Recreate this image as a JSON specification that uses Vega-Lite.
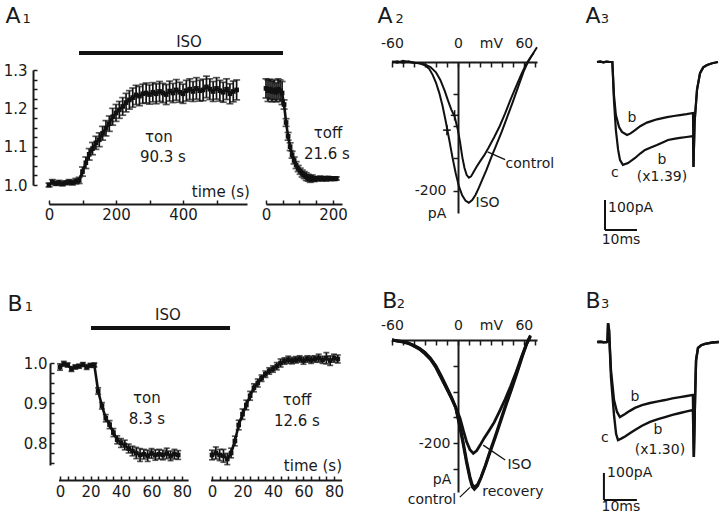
{
"$schema": "https://vega.github.io/schema/vega-lite/v6.json",
"padding": 0,
"background": "white",
"spacing": 0,
"bounds": "flush",
"columns": 4,
"config": {
  "view": {"stroke": null},
  "axis": {"labelFont": "DejaVu Sans", "labelColor": "#1a1a1a", "domainColor": "#1a1a1a", "tickColor": "#1a1a1a", "domainWidth": 2, "tickWidth": 1.5, "grid": false, "labelOverlap": false, "labelFlush": false},
  "text": {"font": "DejaVu Sans", "color": "#1a1a1a"}
},
"datasets": {
  "a1on": [
    {"x":0,"y":1.000,"e":0.005},{"x":10,"y":1.008,"e":0.006},{"x":20,"y":1.004,"e":0.005},{"x":30,"y":1.006,"e":0.006},{"x":40,"y":1.003,"e":0.005},{"x":50,"y":1.006,"e":0.005},{"x":60,"y":1.008,"e":0.006},{"x":70,"y":1.006,"e":0.006},{"x":80,"y":1.010,"e":0.007},{"x":90,"y":1.012,"e":0.008},
    {"x":100,"y":1.035,"e":0.012},{"x":110,"y":1.058,"e":0.015},{"x":120,"y":1.080,"e":0.015},{"x":130,"y":1.095,"e":0.016},{"x":140,"y":1.110,"e":0.017},{"x":150,"y":1.118,"e":0.018},{"x":160,"y":1.135,"e":0.018},{"x":170,"y":1.148,"e":0.020},{"x":180,"y":1.160,"e":0.020},{"x":190,"y":1.178,"e":0.022},
    {"x":200,"y":1.188,"e":0.022},{"x":210,"y":1.196,"e":0.022},{"x":220,"y":1.205,"e":0.023},{"x":230,"y":1.215,"e":0.024},{"x":240,"y":1.222,"e":0.024},{"x":250,"y":1.228,"e":0.025},{"x":260,"y":1.235,"e":0.025},{"x":270,"y":1.232,"e":0.025},{"x":280,"y":1.238,"e":0.025},{"x":290,"y":1.240,"e":0.026},
    {"x":300,"y":1.236,"e":0.025},{"x":310,"y":1.242,"e":0.025},{"x":320,"y":1.238,"e":0.026},{"x":330,"y":1.244,"e":0.026},{"x":340,"y":1.240,"e":0.025},{"x":350,"y":1.236,"e":0.026},{"x":360,"y":1.245,"e":0.026},{"x":370,"y":1.240,"e":0.025},{"x":380,"y":1.248,"e":0.027},{"x":390,"y":1.242,"e":0.026},
    {"x":400,"y":1.238,"e":0.025},{"x":410,"y":1.246,"e":0.027},{"x":420,"y":1.250,"e":0.027},{"x":430,"y":1.244,"e":0.026},{"x":440,"y":1.252,"e":0.028},{"x":450,"y":1.246,"e":0.027},{"x":460,"y":1.248,"e":0.028},{"x":470,"y":1.256,"e":0.028},{"x":480,"y":1.250,"e":0.027},{"x":490,"y":1.244,"e":0.026},
    {"x":500,"y":1.252,"e":0.028},{"x":510,"y":1.246,"e":0.027},{"x":520,"y":1.242,"e":0.026},{"x":530,"y":1.250,"e":0.027},{"x":540,"y":1.238,"e":0.026},{"x":550,"y":1.244,"e":0.027},{"x":560,"y":1.248,"e":0.026}
  ],
  "a1off": [
    {"x":0,"y":1.252,"e":0.025},{"x":6,"y":1.246,"e":0.028},{"x":12,"y":1.250,"e":0.026},{"x":18,"y":1.244,"e":0.027},{"x":24,"y":1.248,"e":0.026},{"x":30,"y":1.242,"e":0.025},{"x":36,"y":1.250,"e":0.027},{"x":42,"y":1.246,"e":0.028},{"x":48,"y":1.240,"e":0.030},
    {"x":54,"y":1.210,"e":0.012},{"x":60,"y":1.163,"e":0.010},{"x":66,"y":1.127,"e":0.010},{"x":72,"y":1.100,"e":0.010},{"x":78,"y":1.079,"e":0.009},{"x":84,"y":1.064,"e":0.009},{"x":90,"y":1.052,"e":0.009},{"x":96,"y":1.043,"e":0.008},{"x":102,"y":1.036,"e":0.008},{"x":108,"y":1.030,"e":0.009},
    {"x":114,"y":1.026,"e":0.009},{"x":120,"y":1.022,"e":0.010},{"x":126,"y":1.019,"e":0.009},{"x":132,"y":1.016,"e":0.009},{"x":138,"y":1.018,"e":0.008},{"x":144,"y":1.015,"e":0.006},{"x":150,"y":1.017,"e":0.005},{"x":156,"y":1.016,"e":0.005},{"x":162,"y":1.018,"e":0.005},
    {"x":168,"y":1.016,"e":0.005},{"x":174,"y":1.017,"e":0.005},{"x":180,"y":1.016,"e":0.005},{"x":186,"y":1.018,"e":0.004},{"x":192,"y":1.016,"e":0.004},{"x":198,"y":1.017,"e":0.004},{"x":204,"y":1.016,"e":0.004},{"x":210,"y":1.017,"e":0.004}
  ],
  "b1on": [
    {"x":0,"y":0.990,"e":0.008},{"x":2.5,"y":0.998,"e":0.006},{"x":5,"y":0.995,"e":0.005},{"x":7.5,"y":0.985,"e":0.006},{"x":10,"y":0.990,"e":0.005},{"x":12.5,"y":0.992,"e":0.005},{"x":15,"y":0.996,"e":0.005},{"x":17.5,"y":0.990,"e":0.006},{"x":20,"y":0.994,"e":0.005},{"x":22.5,"y":0.995,"e":0.005},
    {"x":25,"y":0.930,"e":0.008},{"x":27.5,"y":0.893,"e":0.008},{"x":30,"y":0.862,"e":0.009},{"x":32.5,"y":0.846,"e":0.010},{"x":35,"y":0.826,"e":0.010},{"x":37.5,"y":0.808,"e":0.010},{"x":40,"y":0.800,"e":0.011},{"x":42.5,"y":0.795,"e":0.012},{"x":45,"y":0.786,"e":0.011},{"x":47.5,"y":0.780,"e":0.012},
    {"x":50,"y":0.775,"e":0.014},{"x":52.5,"y":0.770,"e":0.016},{"x":55,"y":0.772,"e":0.012},{"x":57.5,"y":0.768,"e":0.014},{"x":60,"y":0.774,"e":0.012},{"x":62.5,"y":0.770,"e":0.013},{"x":65,"y":0.772,"e":0.012},{"x":67.5,"y":0.770,"e":0.012},{"x":70,"y":0.774,"e":0.013},{"x":72.5,"y":0.768,"e":0.012},{"x":75,"y":0.772,"e":0.012},{"x":77.5,"y":0.770,"e":0.011}
  ],
  "b1off": [
    {"x":0,"y":0.770,"e":0.012},{"x":2.5,"y":0.775,"e":0.015},{"x":5,"y":0.770,"e":0.014},{"x":7.5,"y":0.768,"e":0.016},{"x":10,"y":0.760,"e":0.014},{"x":12.5,"y":0.775,"e":0.012},{"x":15,"y":0.805,"e":0.012},{"x":17.5,"y":0.845,"e":0.012},{"x":20,"y":0.872,"e":0.013},{"x":22.5,"y":0.895,"e":0.012},
    {"x":25,"y":0.918,"e":0.011},{"x":27.5,"y":0.938,"e":0.010},{"x":30,"y":0.950,"e":0.010},{"x":32.5,"y":0.962,"e":0.008},{"x":35,"y":0.972,"e":0.008},{"x":37.5,"y":0.980,"e":0.008},{"x":40,"y":0.985,"e":0.008},{"x":42.5,"y":0.992,"e":0.009},{"x":45,"y":1.000,"e":0.010},{"x":47.5,"y":1.005,"e":0.008},
    {"x":50,"y":1.008,"e":0.009},{"x":52.5,"y":1.006,"e":0.008},{"x":55,"y":1.008,"e":0.008},{"x":57.5,"y":1.010,"e":0.008},{"x":60,"y":1.006,"e":0.009},{"x":62.5,"y":1.010,"e":0.008},{"x":65,"y":1.008,"e":0.009},{"x":67.5,"y":1.010,"e":0.008},{"x":70,"y":1.012,"e":0.010},{"x":72.5,"y":1.008,"e":0.009},{"x":75,"y":1.012,"e":0.014},{"x":77.5,"y":1.006,"e":0.012},{"x":80,"y":1.012,"e":0.010},{"x":82.5,"y":1.010,"e":0.010}
  ],
  "a2": [
    {"s":"ISO","x":-60,"y":1},{"s":"ISO","x":-55,"y":-1},{"s":"ISO","x":-50,"y":2},{"s":"ISO","x":-45,"y":0},{"s":"ISO","x":-40,"y":-1},{"s":"ISO","x":-35,"y":-2},{"s":"ISO","x":-30,"y":-5},{"s":"ISO","x":-26,"y":-11},{"s":"ISO","x":-23,"y":-20},{"s":"ISO","x":-20,"y":-32},{"s":"ISO","x":-17,"y":-48},{"s":"ISO","x":-14,"y":-68},{"s":"ISO","x":-11,"y":-93},{"s":"ISO","x":-8,"y":-120},{"s":"ISO","x":-5,"y":-148},{"s":"ISO","x":-2,"y":-173},{"s":"ISO","x":1,"y":-194},{"s":"ISO","x":4,"y":-208},{"s":"ISO","x":7,"y":-216},{"s":"ISO","x":10,"y":-219},{"s":"ISO","x":13,"y":-215},{"s":"ISO","x":16,"y":-207},{"s":"ISO","x":19,"y":-196},{"s":"ISO","x":22,"y":-184},{"s":"ISO","x":26,"y":-168},{"s":"ISO","x":30,"y":-150},{"s":"ISO","x":35,"y":-129},{"s":"ISO","x":40,"y":-108},{"s":"ISO","x":45,"y":-85},{"s":"ISO","x":50,"y":-62},{"s":"ISO","x":55,"y":-38},{"s":"ISO","x":60,"y":-14},{"s":"ISO","x":64,"y":1},{"s":"ISO","x":68,"y":12},{"s":"ISO","x":72,"y":23},
    {"s":"control","x":-60,"y":0},{"s":"control","x":-55,"y":1},{"s":"control","x":-50,"y":-1},{"s":"control","x":-45,"y":1},{"s":"control","x":-40,"y":-1},{"s":"control","x":-35,"y":-2},{"s":"control","x":-30,"y":-4},{"s":"control","x":-25,"y":-8},{"s":"control","x":-20,"y":-16},{"s":"control","x":-16,"y":-28},{"s":"control","x":-12,"y":-45},{"s":"control","x":-9,"y":-60},{"s":"control","x":-6,"y":-74},{"s":"control","x":-3,"y":-85},{"s":"control","x":0,"y":-106},{"s":"control","x":2,"y":-125},{"s":"control","x":4,"y":-148},{"s":"control","x":6,"y":-165},{"s":"control","x":8,"y":-176},{"s":"control","x":10,"y":-180},{"s":"control","x":12,"y":-178},{"s":"control","x":14,"y":-172},{"s":"control","x":17,"y":-163},{"s":"control","x":20,"y":-155},{"s":"control","x":24,"y":-145},{"s":"control","x":28,"y":-133},{"s":"control","x":33,"y":-117},{"s":"control","x":38,"y":-100},{"s":"control","x":43,"y":-80},{"s":"control","x":48,"y":-58},{"s":"control","x":53,"y":-38},{"s":"control","x":58,"y":-18},{"s":"control","x":62,"y":-4},{"s":"control","x":66,"y":7},{"s":"control","x":69,"y":14}
  ],
  "b2": [
    {"s":"ISO","x":-60,"y":0},{"s":"ISO","x":-55,"y":-2},{"s":"ISO","x":-50,"y":-3},{"s":"ISO","x":-45,"y":-6},{"s":"ISO","x":-40,"y":-10},{"s":"ISO","x":-35,"y":-16},{"s":"ISO","x":-30,"y":-24},{"s":"ISO","x":-25,"y":-35},{"s":"ISO","x":-20,"y":-50},{"s":"ISO","x":-15,"y":-70},{"s":"ISO","x":-10,"y":-92},{"s":"ISO","x":-6,"y":-110},{"s":"ISO","x":-2,"y":-130},{"s":"ISO","x":2,"y":-152},{"s":"ISO","x":5,"y":-176},{"s":"ISO","x":8,"y":-198},{"s":"ISO","x":11,"y":-213},{"s":"ISO","x":14,"y":-220},{"s":"ISO","x":17,"y":-215},{"s":"ISO","x":20,"y":-205},{"s":"ISO","x":24,"y":-190},{"s":"ISO","x":28,"y":-177},{"s":"ISO","x":33,"y":-160},{"s":"ISO","x":38,"y":-138},{"s":"ISO","x":43,"y":-115},{"s":"ISO","x":48,"y":-90},{"s":"ISO","x":53,"y":-62},{"s":"ISO","x":58,"y":-32},{"s":"ISO","x":62,"y":-10},{"s":"ISO","x":66,"y":6},
    {"s":"control","x":-60,"y":0},{"s":"control","x":-55,"y":-2},{"s":"control","x":-50,"y":-4},{"s":"control","x":-45,"y":-7},{"s":"control","x":-40,"y":-11},{"s":"control","x":-35,"y":-17},{"s":"control","x":-30,"y":-25},{"s":"control","x":-25,"y":-36},{"s":"control","x":-20,"y":-52},{"s":"control","x":-15,"y":-73},{"s":"control","x":-10,"y":-95},{"s":"control","x":-6,"y":-112},{"s":"control","x":-2,"y":-132},{"s":"control","x":2,"y":-172},{"s":"control","x":5,"y":-205},{"s":"control","x":8,"y":-240},{"s":"control","x":11,"y":-270},{"s":"control","x":13,"y":-285},{"s":"control","x":15,"y":-290},{"s":"control","x":18,"y":-283},{"s":"control","x":21,"y":-268},{"s":"control","x":25,"y":-245},{"s":"control","x":29,"y":-220},{"s":"control","x":34,"y":-190},{"s":"control","x":39,"y":-158},{"s":"control","x":44,"y":-126},{"s":"control","x":49,"y":-95},{"s":"control","x":54,"y":-63},{"s":"control","x":59,"y":-30},{"s":"control","x":63,"y":-6},{"s":"control","x":66,"y":8},
    {"s":"recovery","x":-60,"y":0},{"s":"recovery","x":-55,"y":-1},{"s":"recovery","x":-50,"y":-3},{"s":"recovery","x":-45,"y":-6},{"s":"recovery","x":-40,"y":-12},{"s":"recovery","x":-35,"y":-18},{"s":"recovery","x":-30,"y":-27},{"s":"recovery","x":-25,"y":-38},{"s":"recovery","x":-20,"y":-54},{"s":"recovery","x":-15,"y":-75},{"s":"recovery","x":-10,"y":-96},{"s":"recovery","x":-6,"y":-113},{"s":"recovery","x":-2,"y":-131},{"s":"recovery","x":2,"y":-168},{"s":"recovery","x":5,"y":-200},{"s":"recovery","x":8,"y":-235},{"s":"recovery","x":11,"y":-265},{"s":"recovery","x":13,"y":-280},{"s":"recovery","x":15,"y":-286},{"s":"recovery","x":18,"y":-280},{"s":"recovery","x":21,"y":-266},{"s":"recovery","x":25,"y":-243},{"s":"recovery","x":29,"y":-217},{"s":"recovery","x":34,"y":-186},{"s":"recovery","x":39,"y":-154},{"s":"recovery","x":44,"y":-122},{"s":"recovery","x":49,"y":-92},{"s":"recovery","x":54,"y":-60},{"s":"recovery","x":59,"y":-28},{"s":"recovery","x":63,"y":-4},{"s":"recovery","x":66,"y":9}
  ],
  "a3": [
    {"s":"b","x":-5,"y":0},{"s":"b","x":-4,"y":2},{"s":"b","x":-3,"y":-1},{"s":"b","x":-2,"y":1},{"s":"b","x":-1,"y":0},{"s":"b","x":-0.2,"y":0},{"s":"b","x":0.3,"y":-110},{"s":"b","x":0.9,"y":-177},{"s":"b","x":1.9,"y":-217},{"s":"b","x":2.8,"y":-233},{"s":"b","x":4.4,"y":-243},{"s":"b","x":5.5,"y":-238},{"s":"b","x":6.9,"y":-227},{"s":"b","x":8.5,"y":-214},{"s":"b","x":10.6,"y":-202},{"s":"b","x":12,"y":-197},{"s":"b","x":13.75,"y":-191},{"s":"b","x":15.5,"y":-187},{"s":"b","x":16.9,"y":-184},{"s":"b","x":19,"y":-180},{"s":"b","x":20.9,"y":-177},{"s":"b","x":23,"y":-174},{"s":"b","x":25,"y":-170},{"s":"b","x":25.15,"y":-350},{"s":"b","x":25.5,"y":-200},{"s":"b","x":26.25,"y":-93},{"s":"b","x":27.2,"y":-37},{"s":"b","x":28.2,"y":-18},{"s":"b","x":29.4,"y":-10},{"s":"b","x":31,"y":-4},{"s":"b","x":32.8,"y":0},
    {"s":"c","x":-5,"y":0},{"s":"c","x":-4,"y":1},{"s":"c","x":-3,"y":-1},{"s":"c","x":-2,"y":1},{"s":"c","x":-1,"y":0},{"s":"c","x":-0.2,"y":0},{"s":"c","x":0.3,"y":-127},{"s":"c","x":0.9,"y":-227},{"s":"c","x":1.6,"y":-293},{"s":"c","x":2.2,"y":-327},{"s":"c","x":3.1,"y":-343},{"s":"c","x":4.7,"y":-337},{"s":"c","x":6.9,"y":-320},{"s":"c","x":8.5,"y":-305},{"s":"c","x":10,"y":-293},{"s":"c","x":12,"y":-284},{"s":"c","x":13.75,"y":-277},{"s":"c","x":15.5,"y":-268},{"s":"c","x":17.2,"y":-260},{"s":"c","x":19,"y":-256},{"s":"c","x":20.9,"y":-253},{"s":"c","x":23,"y":-250},{"s":"c","x":25,"y":-247},{"s":"c","x":25.15,"y":-350},{"s":"c","x":25.5,"y":-200},{"s":"c","x":26.25,"y":-93},{"s":"c","x":27.2,"y":-37},{"s":"c","x":28.2,"y":-18},{"s":"c","x":29.4,"y":-10},{"s":"c","x":31,"y":-4},{"s":"c","x":32.8,"y":0}
  ],
  "b3": [
    {"s":"b","x":-4,"y":0},{"s":"b","x":-3,"y":1},{"s":"b","x":-2,"y":-1},{"s":"b","x":-1,"y":0},{"s":"b","x":-0.8,"y":2},{"s":"b","x":-0.6,"y":70},{"s":"b","x":-0.3,"y":44},{"s":"b","x":0.3,"y":-104},{"s":"b","x":1.25,"y":-215},{"s":"b","x":2.2,"y":-259},{"s":"b","x":3.1,"y":-278},{"s":"b","x":4.7,"y":-267},{"s":"b","x":6.2,"y":-255},{"s":"b","x":7.8,"y":-244},{"s":"b","x":10,"y":-234},{"s":"b","x":12.5,"y":-226},{"s":"b","x":15,"y":-220},{"s":"b","x":17.2,"y":-215},{"s":"b","x":19.5,"y":-209},{"s":"b","x":21.9,"y":-204},{"s":"b","x":24,"y":-200},{"s":"b","x":25.9,"y":-196},{"s":"b","x":26.2,"y":-426},{"s":"b","x":26.6,"y":-200},{"s":"b","x":26.9,"y":-67},{"s":"b","x":27.5,"y":-22},{"s":"b","x":28.5,"y":-12},{"s":"b","x":29.7,"y":-7},{"s":"b","x":32,"y":-2},{"s":"b","x":34,"y":0},
    {"s":"c","x":-4,"y":0},{"s":"c","x":-3,"y":1},{"s":"c","x":-2,"y":-1},{"s":"c","x":-1,"y":0},{"s":"c","x":-0.8,"y":2},{"s":"c","x":-0.6,"y":70},{"s":"c","x":-0.3,"y":44},{"s":"c","x":0.3,"y":-130},{"s":"c","x":1.25,"y":-270},{"s":"c","x":1.9,"y":-340},{"s":"c","x":2.5,"y":-363},{"s":"c","x":3.5,"y":-358},{"s":"c","x":4.7,"y":-350},{"s":"c","x":6.2,"y":-338},{"s":"c","x":7.8,"y":-326},{"s":"c","x":10,"y":-310},{"s":"c","x":12.5,"y":-296},{"s":"c","x":15,"y":-286},{"s":"c","x":17.2,"y":-278},{"s":"c","x":19.5,"y":-270},{"s":"c","x":21.9,"y":-263},{"s":"c","x":24,"y":-257},{"s":"c","x":25.9,"y":-252},{"s":"c","x":26.2,"y":-426},{"s":"c","x":26.6,"y":-200},{"s":"c","x":26.9,"y":-67},{"s":"c","x":27.5,"y":-22},{"s":"c","x":28.5,"y":-12},{"s":"c","x":29.7,"y":-7},{"s":"c","x":32,"y":-2},{"s":"c","x":34,"y":0}
  ]
},
"concat": [
  {"width": 200, "height": 260,
   "encoding": {
     "x": {"field": "x", "type": "quantitative", "title": null, "scale": {"domain": [0, 591], "range": [49, 247], "nice": false, "zero": false},
           "axis": {"orient": "bottom", "offset": -56, "values": [0,100,200,300,400,500], "labelExpr": "datum.value % 200 == 0 ? datum.label : ''", "tickSize": -4, "labelPadding": 7, "labelFontSize": 15}},
     "y": {"field": "y", "type": "quantitative", "title": null, "scale": {"domain": [1, 1.3], "range": [185, 70], "nice": false, "zero": false},
           "axis": {"orient": "left", "offset": -33, "values": [1,1.025,1.05,1.075,1.1,1.125,1.15,1.175,1.2,1.225,1.25,1.275,1.3], "labelExpr": "abs(datum.value*10 - round(datum.value*10)) < 0.01 ? format(datum.value, '.1f') : ''", "tickSize": -4, "labelPadding": 10, "labelFontSize": 15}}
   },
   "layer": [
     {"data": {"name": "a1on"}, "mark": {"type": "errorbar", "ticks": {"size": 7, "color": "#111111"}, "color": "#111111", "thickness": 1.7}, "encoding": {"yError": {"field": "e"}}},
     {"data": {"name": "a1on"}, "mark": {"type": "line", "color": "#111111", "strokeWidth": 2.6}},
     {"data": {"name": "a1on"}, "mark": {"type": "point", "shape": "square", "filled": true, "size": 22, "color": "#111111", "opacity": 1}},
     {"data": {"values": [{"x": 89.6, "x2": 698.5, "y": 1.3444}]}, "mark": {"type": "rule", "strokeWidth": 4, "color": "#111111"}, "encoding": {"x2": {"field": "x2"}}},
     {"data": {"values": [{"x": 418, "y": 1.373, "label": "ISO"}, {"x": 328, "y": 1.125, "label": "τon"}, {"x": 340, "y": 1.073, "label": "90.3 s"}, {"x": 513, "y": 0.982, "label": "time (s)"}]},
      "mark": {"type": "text", "fontSize": 15, "align": "center", "baseline": "middle"}, "encoding": {"text": {"field": "label"}}},
     {"data": {"values": [{"x": -107, "y": 1.4226, "label": "A"}]}, "mark": {"type": "text", "fontSize": 22, "align": "center", "baseline": "alphabetic"}, "encoding": {"text": {"field": "label"}}},
     {"data": {"values": [{"x": -67, "y": 1.4226, "label": "1"}]}, "mark": {"type": "text", "fontSize": 13, "align": "center", "baseline": "alphabetic"}, "encoding": {"text": {"field": "label"}}}
   ]
  },
  {"width": 160, "height": 260,
   "encoding": {
     "x": {"field": "x", "type": "quantitative", "title": null, "scale": {"domain": [0, 227], "range": [66, 142], "nice": false, "zero": false},
           "axis": {"orient": "bottom", "offset": -56, "values": [0,50,100,150,200], "labelExpr": "datum.value % 200 == 0 ? datum.label : ''", "tickSize": -4, "labelPadding": 7, "labelFontSize": 15}},
     "y": {"field": "y", "type": "quantitative", "title": null, "scale": {"domain": [1, 1.3], "range": [185, 70], "nice": false, "zero": false}, "axis": null}
   },
   "layer": [
     {"data": {"name": "a1off"}, "mark": {"type": "errorbar", "ticks": {"size": 7, "color": "#111111"}, "color": "#111111", "thickness": 1.7}, "encoding": {"yError": {"field": "e"}}},
     {"data": {"name": "a1off"}, "mark": {"type": "line", "color": "#111111", "strokeWidth": 2.6}},
     {"data": {"name": "a1off"}, "mark": {"type": "point", "shape": "square", "filled": true, "size": 22, "color": "#111111", "opacity": 1}},
     {"data": {"values": [{"x": 185, "y": 1.136, "label": "τoff"}, {"x": 182, "y": 1.081, "label": "21.6 s"}]},
      "mark": {"type": "text", "fontSize": 15, "align": "center", "baseline": "middle"}, "encoding": {"text": {"field": "label"}}}
   ]
  },
  {"width": 200, "height": 260,
   "encoding": {
     "x": {"field": "x", "type": "quantitative", "title": null, "scale": {"domain": [-60, 72], "range": [32, 177], "nice": false, "zero": false},
           "axis": {"orient": "top", "offset": -62, "values": [-60,-50,-40,-30,-20,-10,0,10,20,30,40,50,60,70], "labelExpr": "datum.value == 30 ? 'mV' : (datum.value % 60 == 0 ? '' + datum.value : '')", "tickSize": -5, "labelPadding": 17, "labelFontSize": 14}},
     "y": {"field": "y", "type": "quantitative", "title": null, "scale": {"domain": [-235, 0], "range": [213, 62], "nice": false, "zero": false},
           "axis": {"orient": "left", "offset": -98, "values": [-50,-100,-150,-200], "labelExpr": "datum.value == -200 ? '' + datum.value : ''", "tickSize": 5, "labelPadding": 7, "labelFontSize": 14}}
   },
   "layer": [
     {"data": {"name": "a2"}, "mark": {"type": "line", "color": "#111111", "strokeWidth": 2}, "encoding": {"detail": {"field": "s"}}},
     {"data": {"values": [{"x": -3, "y": -91, "y2": -75}, {"x": -10, "y": -114, "y2": -98}]}, "mark": {"type": "rule", "color": "#111111", "strokeWidth": 1.5}, "encoding": {"y2": {"field": "y2"}}},
     {"data": {"values": [{"x": -6.5, "x2": 0.5, "y": -83}, {"x": -13.5, "x2": -6.5, "y": -106}]}, "mark": {"type": "rule", "color": "#111111", "strokeWidth": 1.5}, "encoding": {"x2": {"field": "x2"}}},
     {"data": {"values": [{"x": 27, "y": -140, "x2": 43, "y2": -152}]}, "mark": {"type": "rule", "color": "#111111", "strokeWidth": 1.3}, "encoding": {"x2": {"field": "x2"}, "y2": {"field": "y2"}}},
     {"data": {"values": [{"x": 27, "y": -220, "label": "ISO"}, {"x": 65.5, "y": -158, "label": "control"}, {"x": -19, "y": -236, "label": "pA"}]},
      "mark": {"type": "text", "fontSize": 14, "align": "center", "baseline": "middle"}, "encoding": {"text": {"field": "label"}}},
     {"data": {"values": [{"x": -66.4, "y": 61, "label": "A"}]}, "mark": {"type": "text", "fontSize": 22, "align": "center", "baseline": "alphabetic"}, "encoding": {"text": {"field": "label"}}},
     {"data": {"values": [{"x": -53, "y": 61, "label": "2"}]}, "mark": {"type": "text", "fontSize": 13, "align": "center", "baseline": "alphabetic"}, "encoding": {"text": {"field": "label"}}}
   ]
  },
  {"width": 160, "height": 260,
   "encoding": {
     "x": {"field": "x", "type": "quantitative", "title": null, "scale": {"domain": [-5, 33], "range": [37, 158.6], "nice": false, "zero": false}, "axis": null},
     "y": {"field": "y", "type": "quantitative", "title": null, "scale": {"domain": [-560, 0], "range": [230, 62], "nice": false, "zero": false}, "axis": null}
   },
   "layer": [
     {"data": {"name": "a3"}, "mark": {"type": "line", "color": "#111111", "strokeWidth": 2.2}, "encoding": {"detail": {"field": "s"}}},
     {"data": {"values": [{"x": -2.5, "y": -460, "x2": -2.5, "y2": -560}, {"x": -2.5, "y": -560, "x2": 7.5, "y2": -560}]}, "mark": {"type": "rule", "color": "#111111", "strokeWidth": 2}, "encoding": {"x2": {"field": "x2"}, "y2": {"field": "y2"}}},
     {"data": {"values": [{"x": 5.9, "y": -187, "label": "b"}, {"x": 0.6, "y": -370, "label": "c"}, {"x": 15.3, "y": -327, "label": "b"}, {"x": 15.3, "y": -383, "label": "(x1.39)"}, {"x": 2.5, "y": -593, "label": "10ms"}]},
      "mark": {"type": "text", "fontSize": 14, "align": "center", "baseline": "middle"}, "encoding": {"text": {"field": "label"}}},
     {"data": {"values": [{"x": -1.56, "y": -487, "label": "100pA"}]}, "mark": {"type": "text", "fontSize": 14, "align": "left", "baseline": "middle"}, "encoding": {"text": {"field": "label"}}},
     {"data": {"values": [{"x": -6.25, "y": 130, "label": "A"}]}, "mark": {"type": "text", "fontSize": 22, "align": "center", "baseline": "alphabetic"}, "encoding": {"text": {"field": "label"}}},
     {"data": {"values": [{"x": -2.5, "y": 130, "label": "3"}]}, "mark": {"type": "text", "fontSize": 13, "align": "center", "baseline": "alphabetic"}, "encoding": {"text": {"field": "label"}}}
   ]
  },
  {"width": 200, "height": 259,
   "encoding": {
     "x": {"field": "x", "type": "quantitative", "title": null, "scale": {"domain": [-1, 84], "range": [58.5, 188.1], "nice": false, "zero": false},
           "axis": {"orient": "bottom", "offset": -39, "values": [0,5,10,15,20,25,30,35,40,45,50,55,60,65,70,75,80], "labelExpr": "datum.value % 20 == 0 ? datum.label : ''", "tickSize": -4, "labelPadding": 8, "labelFontSize": 15}},
     "y": {"field": "y", "type": "quantitative", "title": null, "scale": {"domain": [0.745, 1], "range": [205, 103], "nice": false, "zero": false},
           "axis": {"orient": "left", "offset": -50, "values": [0.75,0.775,0.8,0.825,0.85,0.875,0.9,0.925,0.95,0.975,1], "labelExpr": "abs(datum.value*10 - round(datum.value*10)) < 0.01 ? format(datum.value, '.1f') : ''", "tickSize": -4, "labelPadding": 7, "labelFontSize": 15}}
   },
   "layer": [
     {"data": {"name": "b1on"}, "mark": {"type": "errorbar", "ticks": {"size": 6, "color": "#111111"}, "color": "#111111", "thickness": 1.7}, "encoding": {"yError": {"field": "e"}}},
     {"data": {"name": "b1on"}, "mark": {"type": "line", "color": "#111111", "strokeWidth": 2.6}},
     {"data": {"name": "b1on"}, "mark": {"type": "point", "shape": "square", "filled": true, "size": 22, "color": "#111111", "opacity": 1}},
     {"data": {"values": [{"x": 20.3, "x2": 111.5, "y": 1.0875}]}, "mark": {"type": "rule", "strokeWidth": 4, "color": "#111111"}, "encoding": {"x2": {"field": "x2"}}},
     {"data": {"values": [{"x": 70.8, "y": 1.12, "label": "ISO"}, {"x": 57, "y": 0.9125, "label": "τon"}, {"x": 57, "y": 0.86, "label": "8.3 s"}]},
      "mark": {"type": "text", "fontSize": 15, "align": "center", "baseline": "middle"}, "encoding": {"text": {"field": "label"}}},
     {"data": {"values": [{"x": -29.5, "y": 1.13, "label": "B"}]}, "mark": {"type": "text", "fontSize": 22, "align": "center", "baseline": "alphabetic"}, "encoding": {"text": {"field": "label"}}},
     {"data": {"values": [{"x": -20.5, "y": 1.13, "label": "1"}]}, "mark": {"type": "text", "fontSize": 13, "align": "center", "baseline": "alphabetic"}, "encoding": {"text": {"field": "label"}}}
   ]
  },
  {"width": 160, "height": 259,
   "encoding": {
     "x": {"field": "x", "type": "quantitative", "title": null, "scale": {"domain": [-1, 85], "range": [10.5, 141.6], "nice": false, "zero": false},
           "axis": {"orient": "bottom", "offset": -39, "values": [0,5,10,15,20,25,30,35,40,45,50,55,60,65,70,75,80], "labelExpr": "datum.value % 20 == 0 ? datum.label : ''", "tickSize": -4, "labelPadding": 8, "labelFontSize": 15}},
     "y": {"field": "y", "type": "quantitative", "title": null, "scale": {"domain": [0.745, 1], "range": [205, 103], "nice": false, "zero": false}, "axis": null}
   },
   "layer": [
     {"data": {"name": "b1off"}, "mark": {"type": "errorbar", "ticks": {"size": 6, "color": "#111111"}, "color": "#111111", "thickness": 1.7}, "encoding": {"yError": {"field": "e"}}},
     {"data": {"name": "b1off"}, "mark": {"type": "line", "color": "#111111", "strokeWidth": 2.6}},
     {"data": {"name": "b1off"}, "mark": {"type": "point", "shape": "square", "filled": true, "size": 22, "color": "#111111", "opacity": 1}},
     {"data": {"values": [{"x": 55.7, "y": 0.9075, "label": "τoff"}, {"x": 55.7, "y": 0.855, "label": "12.6 s"}, {"x": 66.2, "y": 0.7425, "label": "time (s)"}]},
      "mark": {"type": "text", "fontSize": 15, "align": "center", "baseline": "middle"}, "encoding": {"text": {"field": "label"}}}
   ]
  },
  {"width": 200, "height": 259,
   "encoding": {
     "x": {"field": "x", "type": "quantitative", "title": null, "scale": {"domain": [-60, 72], "range": [32, 177], "nice": false, "zero": false},
           "axis": {"orient": "top", "offset": -80, "values": [-60,-50,-40,-30,-20,-10,0,10,20,30,40,50,60,70], "labelExpr": "datum.value == 30 ? 'mV' : (datum.value % 60 == 0 ? '' + datum.value : '')", "tickSize": -5, "labelPadding": 13, "labelFontSize": 14}},
     "y": {"field": "y", "type": "quantitative", "title": null, "scale": {"domain": [-295, 0], "range": [232, 80], "nice": false, "zero": false},
           "axis": {"orient": "left", "offset": -98, "values": [-50,-100,-150,-200,-250], "labelExpr": "datum.value == -200 ? '' + datum.value : ''", "tickSize": 5, "labelPadding": 3, "labelFontSize": 14}}
   },
   "layer": [
     {"data": {"name": "b2"}, "mark": {"type": "line", "color": "#111111", "strokeWidth": 2.8}, "encoding": {"detail": {"field": "s"}}},
     {"data": {"values": [{"x": 43, "y": -233, "x2": 23, "y2": -204}, {"x": 1.8, "y": -305, "x2": 11, "y2": -286}]}, "mark": {"type": "rule", "color": "#111111", "strokeWidth": 1.3}, "encoding": {"x2": {"field": "x2"}, "y2": {"field": "y2"}}},
     {"data": {"values": [{"x": 56, "y": -243, "label": "ISO"}, {"x": 50, "y": -295, "label": "recovery"}, {"x": -23.6, "y": -311, "label": "control"}, {"x": -14.5, "y": -272, "label": "pA"}]},
      "mark": {"type": "text", "fontSize": 14, "align": "center", "baseline": "middle"}, "encoding": {"text": {"field": "label"}}},
     {"data": {"values": [{"x": -62, "y": 62, "label": "B"}]}, "mark": {"type": "text", "fontSize": 22, "align": "center", "baseline": "alphabetic"}, "encoding": {"text": {"field": "label"}}},
     {"data": {"values": [{"x": -52, "y": 62, "label": "2"}]}, "mark": {"type": "text", "fontSize": 13, "align": "center", "baseline": "alphabetic"}, "encoding": {"text": {"field": "label"}}}
   ]
  },
  {"width": 160, "height": 259,
   "encoding": {
     "x": {"field": "x", "type": "quantitative", "title": null, "scale": {"domain": [-5, 36], "range": [34, 165.2], "nice": false, "zero": false}, "axis": null},
     "y": {"field": "y", "type": "quantitative", "title": null, "scale": {"domain": [-600, 0], "range": [244, 82], "nice": false, "zero": false}, "axis": null}
   },
   "layer": [
     {"data": {"name": "b3"}, "mark": {"type": "line", "color": "#111111", "strokeWidth": 2.4}, "encoding": {"detail": {"field": "s"}}},
     {"data": {"values": [{"x": -1.9, "y": -485, "x2": -1.9, "y2": -585}, {"x": -1.9, "y": -585, "x2": 8.4, "y2": -585}]}, "mark": {"type": "rule", "color": "#111111", "strokeWidth": 2}, "encoding": {"x2": {"field": "x2"}, "y2": {"field": "y2"}}},
     {"data": {"values": [{"x": 7.8, "y": -204, "label": "b"}, {"x": -1.6, "y": -356, "label": "c"}, {"x": 15, "y": -326, "label": "b"}, {"x": 15.6, "y": -400, "label": "(x1.30)"}, {"x": 3.4, "y": -611, "label": "10ms"}]},
      "mark": {"type": "text", "fontSize": 14, "align": "center", "baseline": "middle"}, "encoding": {"text": {"field": "label"}}},
     {"data": {"values": [{"x": -0.9, "y": -485, "label": "100pA"}]}, "mark": {"type": "text", "fontSize": 14, "align": "left", "baseline": "middle"}, "encoding": {"text": {"field": "label"}}},
     {"data": {"values": [{"x": -5.3, "y": 126, "label": "B"}]}, "mark": {"type": "text", "fontSize": 22, "align": "center", "baseline": "alphabetic"}, "encoding": {"text": {"field": "label"}}},
     {"data": {"values": [{"x": -1.5, "y": 126, "label": "3"}]}, "mark": {"type": "text", "fontSize": 13, "align": "center", "baseline": "alphabetic"}, "encoding": {"text": {"field": "label"}}}
   ]
  }
]
}
